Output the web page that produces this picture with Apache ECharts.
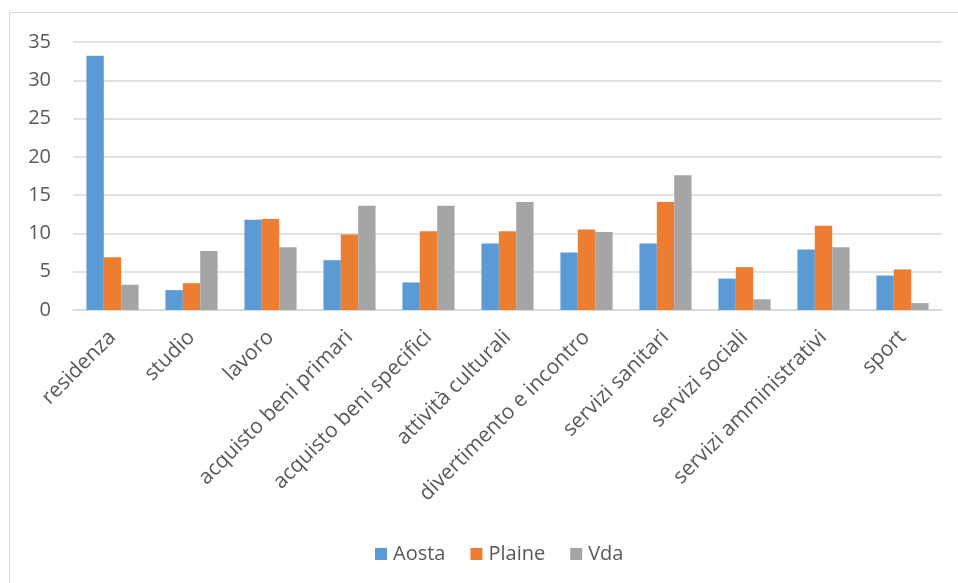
<!DOCTYPE html>
<html>
<head>
<meta charset="utf-8">
<script src="https://cdn.jsdelivr.net/npm/echarts@6/dist/echarts.min.js"></script>
<style>
html,body{margin:0;padding:0;background:#fff;}
#chart{width:958px;height:583px;}
</style>
</head>
<body>
<div id="chart"></div>
<script>
const categories = ['residenza','studio','lavoro','acquisto beni primari','acquisto beni specifici','attività culturali','divertimento e incontro','servizi sanitari','servizi sociali','servizi amministrativi','sport'];
const aosta  = [33.2, 2.6, 11.8, 6.5, 3.6, 8.7, 7.5, 8.7, 4.1, 7.9, 4.5];
const plaine = [6.9, 3.5, 11.9, 9.85, 10.3, 10.3, 10.5, 14.1, 5.6, 11.0, 5.3];
const vda    = [3.3, 7.7, 8.2, 13.6, 13.6, 14.1, 10.2, 17.6, 1.4, 8.2, 0.9];
const seriesNames = ['Aosta','Plaine','Vda'];
const colors = ['#5B9BD5','#ED7D31','#A5A5A5'];

const FONT = '"Open Sans", sans-serif';
const chart = echarts.init(document.getElementById('chart'), null, {renderer:'canvas'});
const mk = (name, data, i) => ({
  name, type:'bar', data,
  barGap:'0%', barCategoryGap:'34%',
  itemStyle:{color:colors[i]}
});
chart.setOption({
  animation:false,
  backgroundColor:'#fff',
  textStyle:{fontFamily:FONT},
  graphic:[{type:'rect', shape:{x:9.5,y:12.5,width:1000,height:700}, style:{fill:'none',stroke:'#D9D9D9',lineWidth:1}, z:-10}],
  grid:{left:73, right:16, top:42, bottom:273, containLabel:false},
  legend:{
    top:539, left:370,
    itemWidth:12, itemHeight:12, itemGap:25,
    icon:'rect',
    textStyle:{color:'#595959', fontSize:20, fontFamily:FONT, padding:[0,0,0,1]},
    data:seriesNames
  },
  xAxis:{
    type:'category', data:categories,
    axisLine:{lineStyle:{color:'#D9D9D9', width:1.5}},
    axisTick:{show:false},
    axisLabel:{rotate:45, color:'#595959', fontSize:21, fontFamily:FONT, margin:24, interval:0}
  },
  yAxis:{
    type:'value', min:0, max:35, interval:5,
    axisLine:{show:false}, axisTick:{show:false},
    splitLine:{lineStyle:{color:'#D9D9D9', width:1.5}},
    axisLabel:{color:'#595959', fontSize:20, fontFamily:FONT, margin:22}
  },
  series:[mk('Aosta',aosta,0), mk('Plaine',plaine,1), mk('Vda',vda,2)]
});
</script>
</body>
</html>
